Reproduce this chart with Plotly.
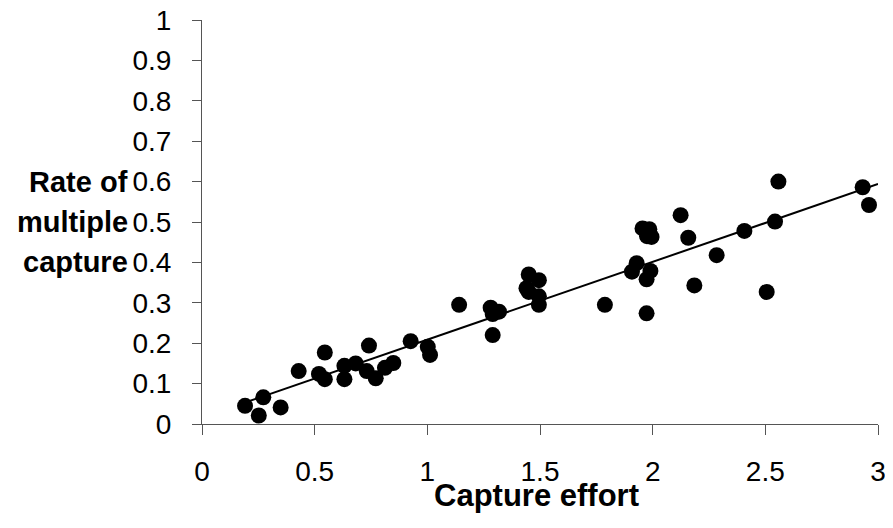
import numpy as np
import plotly.graph_objects as go

# Data
capture_effort = [0.191, 0.252, 0.272, 0.349, 0.429, 0.519, 0.545, 0.545, 0.632, 0.632,
                  0.682, 0.741, 0.731, 0.771, 0.812, 0.849, 0.926, 1.002, 1.012,
                  1.141, 1.281, 1.29, 1.318, 1.29,
                  1.45, 1.495, 1.44, 1.45, 1.495, 1.495,
                  1.788, 1.929, 1.908, 1.99, 1.973, 1.973,
                  1.955, 1.985, 1.975, 1.995,
                  2.124, 2.158, 2.185, 2.284, 2.407, 2.506, 2.543, 2.558, 2.932, 2.96]
multiple_capture = [0.045, 0.021, 0.066, 0.041, 0.131, 0.124, 0.177, 0.111, 0.144, 0.111,
                    0.150, 0.194, 0.131, 0.113, 0.139, 0.151, 0.205, 0.191, 0.171,
                    0.295, 0.288, 0.272, 0.278, 0.220,
                    0.370, 0.356, 0.336, 0.327, 0.316, 0.295,
                    0.295, 0.398, 0.377, 0.379, 0.358, 0.274,
                    0.484, 0.482, 0.465, 0.463,
                    0.517, 0.461, 0.343, 0.418, 0.478, 0.327, 0.501, 0.600, 0.586, 0.542]

x_ticks = [0, 0.5, 1, 1.5, 2, 2.5, 3]
x_tick_labels = ["0", "0.5", "1", "1.5", "2", "2.5", "3"]
y_ticks = [0, 0.1, 0.2, 0.3, 0.4, 0.5, 0.6, 0.7, 0.8, 0.9, 1]
y_tick_labels = ["0", "0.1", "0.2", "0.3", "0.4", "0.5", "0.6", "0.7", "0.8", "0.9", "1"]
y_title_lines = ["Rate of", "multiple", "capture"]
y_title_positions = [0.6, 0.5, 0.4]
x_title = "Capture effort"

# Linear trend line
slope, intercept = np.polyfit(capture_effort, multiple_capture, 1)
trend_x = np.array([min(capture_effort), x_ticks[-1]])
trend_y = slope * trend_x + intercept

FONT = "Liberation Sans, Arial, sans-serif"
AXIS_COLOR = "#555555"

fig = go.Figure()
fig.add_trace(go.Scatter(x=capture_effort, y=multiple_capture, mode="markers",
                         marker=dict(color="black", size=16, line=dict(width=0)),
                         showlegend=False, hoverinfo="x+y"))
fig.add_trace(go.Scatter(x=trend_x, y=trend_y, mode="lines",
                         line=dict(color="black", width=2),
                         showlegend=False, hoverinfo="skip"))

fig.update_layout(
    width=885, height=520,
    margin=dict(l=194, r=15, t=12, b=104),
    plot_bgcolor="white", paper_bgcolor="white",
    font=dict(family=FONT, color="black"),
    xaxis=dict(range=[0, 3], tickvals=x_ticks, ticktext=x_tick_labels,
               ticks="outside", ticklen=10, tickcolor=AXIS_COLOR, tickwidth=1,
               showline=True, linecolor=AXIS_COLOR, linewidth=1,
               showgrid=False, zeroline=False, automargin=False,
               ticklabeloverflow="allow",
               tickfont=dict(size=28, family=FONT, color="black"),
               ticklabelstandoff=12),
    yaxis=dict(range=[0, 1], tickvals=y_ticks, ticktext=y_tick_labels,
               ticks="outside", ticklen=9, tickcolor=AXIS_COLOR, tickwidth=1,
               showline=True, linecolor=AXIS_COLOR, linewidth=1,
               showgrid=False, zeroline=False, automargin=False,
               ticklabeloverflow="allow",
               tickfont=dict(size=28, family=FONT, color="black"),
               ticklabelstandoff=15),
)

for line, ypos in zip(y_title_lines, y_title_positions):
    fig.add_annotation(text=line, xref="paper", yref="y", x=-0.1065, y=ypos,
                       xanchor="right", yanchor="middle", showarrow=False,
                       font=dict(size=29, family=FONT, color="black", weight="bold"))

fig.add_annotation(text=x_title, xref="paper", yref="paper", x=0.495, y=-0.178,
                   xanchor="center", yanchor="middle", showarrow=False,
                   font=dict(size=31, family=FONT, color="black", weight="bold"))

fig.write_html("out.html")
